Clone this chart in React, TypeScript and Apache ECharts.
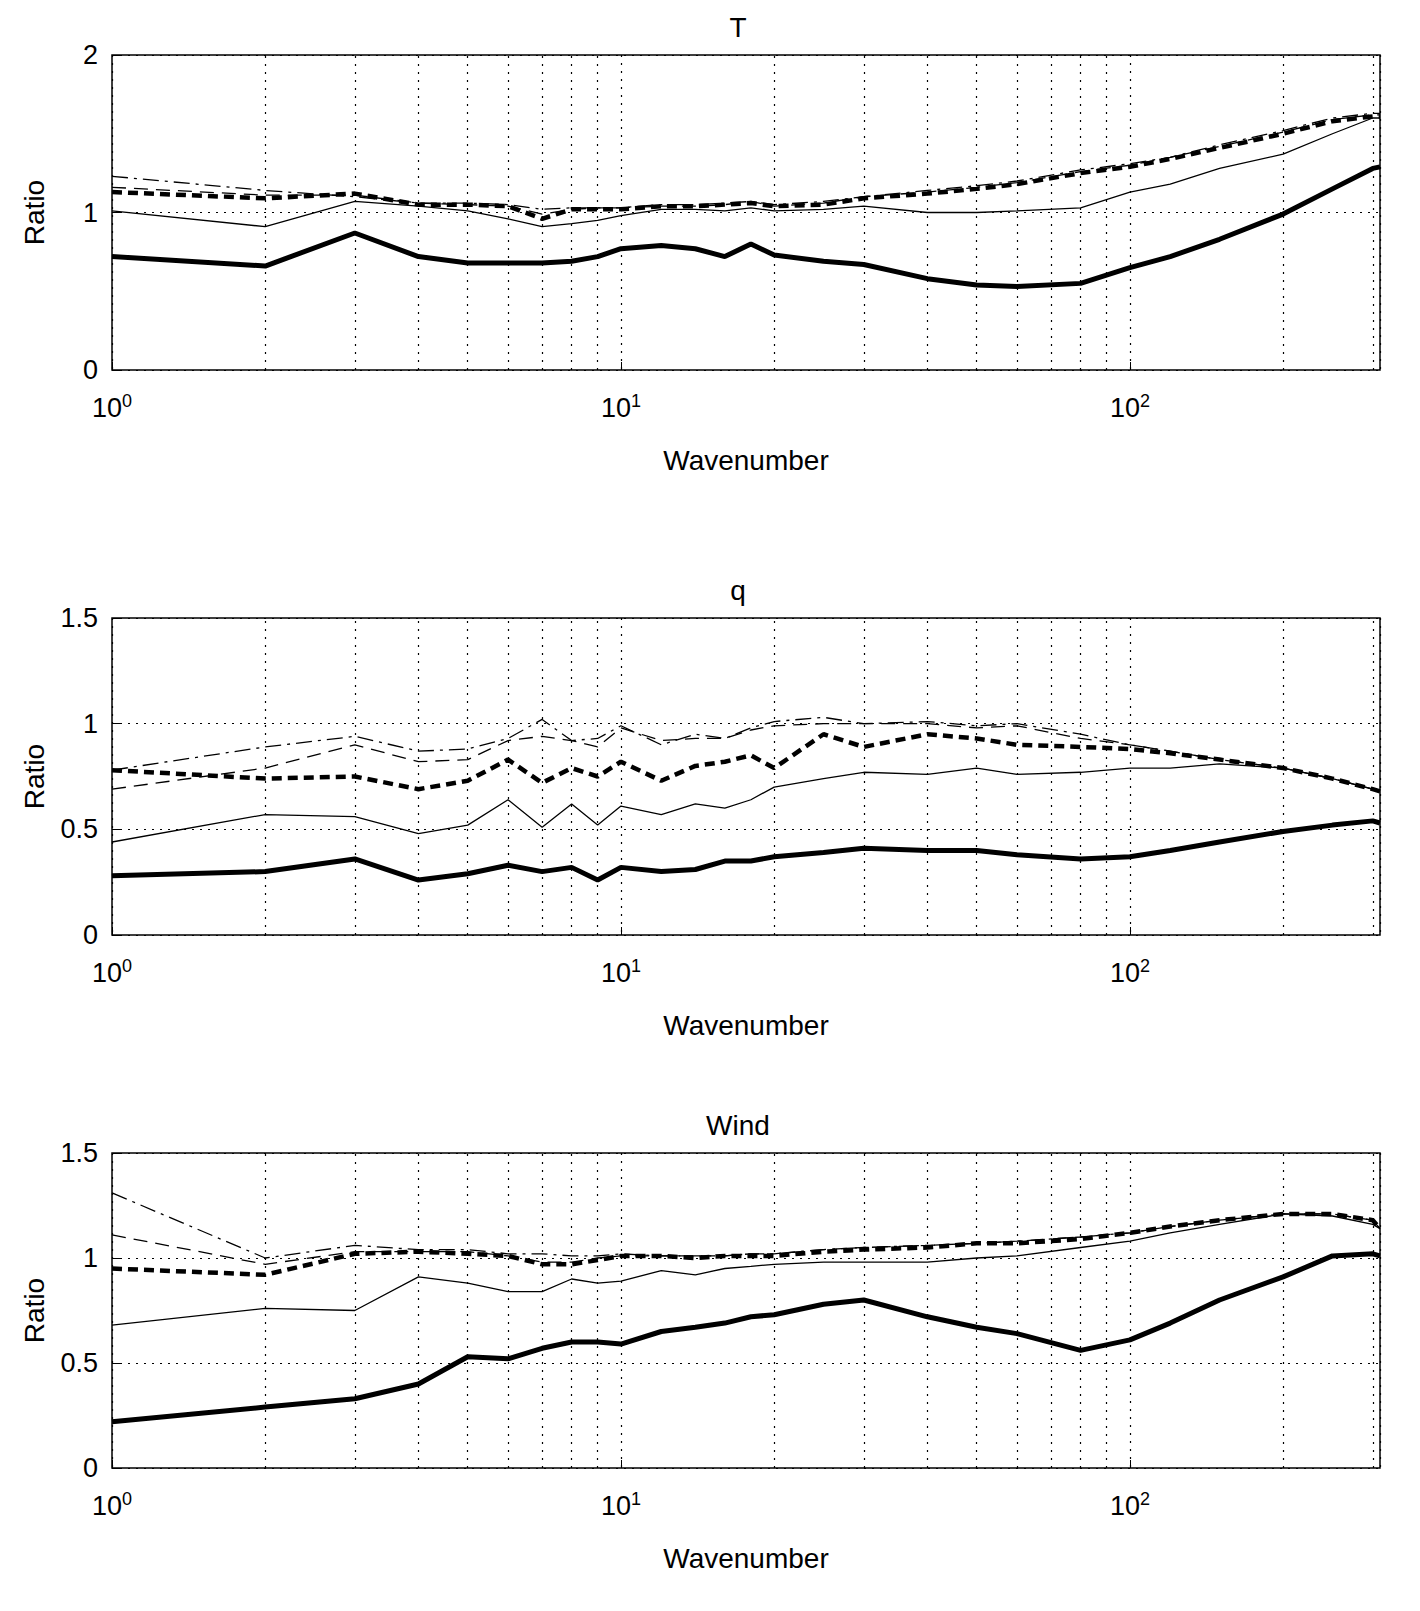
import { useEffect, useRef } from "react";
import * as echarts from "echarts";

const WN = [1, 2, 3, 4, 5, 6, 7, 8, 9, 10, 12, 14, 16, 18, 20, 25, 30, 40, 50, 60, 80, 100, 120, 150, 200, 250, 300, 310];
const MINOR = [2, 3, 4, 5, 6, 7, 8, 9, 20, 30, 40, 50, 60, 70, 80, 90, 200, 300];

// T panel
const T_thick = [0.72, 0.66, 0.87, 0.72, 0.68, 0.68, 0.68, 0.69, 0.72, 0.77, 0.79, 0.77, 0.72, 0.8, 0.73, 0.69, 0.67, 0.58, 0.54, 0.53, 0.55, 0.65, 0.72, 0.83, 0.99, 1.15, 1.28, 1.29];
const T_thin = [1.01, 0.91, 1.07, 1.04, 1.01, 0.96, 0.91, 0.93, 0.95, 0.98, 1.02, 1.02, 1.01, 1.03, 1.01, 1.02, 1.04, 1.0, 1.0, 1.01, 1.03, 1.13, 1.18, 1.28, 1.37, 1.5, 1.6, 1.6];
const T_dash = [1.13, 1.09, 1.12, 1.05, 1.05, 1.04, 0.96, 1.02, 1.02, 1.02, 1.04, 1.04, 1.05, 1.06, 1.04, 1.05, 1.09, 1.12, 1.15, 1.18, 1.25, 1.29, 1.34, 1.41, 1.5, 1.58, 1.61, 1.61];
const T_thinDash = [1.16, 1.11, 1.11, 1.06, 1.05, 1.04, 0.99, 1.02, 1.03, 1.03, 1.04, 1.04, 1.05, 1.07, 1.04, 1.06, 1.1, 1.13, 1.16, 1.19, 1.26, 1.3, 1.35, 1.42, 1.51, 1.59, 1.62, 1.62];
const T_dashDot = [1.23, 1.14, 1.1, 1.06, 1.06, 1.05, 1.02, 1.03, 1.03, 1.03, 1.05, 1.05, 1.06, 1.07, 1.05, 1.07, 1.1, 1.14, 1.17, 1.2, 1.27, 1.31, 1.35, 1.43, 1.52, 1.6, 1.63, 1.63];

// q panel
const Q_thick = [0.28, 0.3, 0.36, 0.26, 0.29, 0.33, 0.3, 0.32, 0.26, 0.32, 0.3, 0.31, 0.35, 0.35, 0.37, 0.39, 0.41, 0.4, 0.4, 0.38, 0.36, 0.37, 0.4, 0.44, 0.49, 0.52, 0.54, 0.53];
const Q_thin = [0.44, 0.57, 0.56, 0.48, 0.52, 0.64, 0.51, 0.62, 0.52, 0.61, 0.57, 0.62, 0.6, 0.64, 0.7, 0.74, 0.77, 0.76, 0.79, 0.76, 0.77, 0.79, 0.79, 0.81, 0.79, 0.74, 0.69, 0.68];
const Q_dash = [0.78, 0.74, 0.75, 0.69, 0.73, 0.83, 0.72, 0.79, 0.75, 0.82, 0.73, 0.8, 0.82, 0.85, 0.79, 0.95, 0.89, 0.95, 0.93, 0.9, 0.89, 0.88, 0.86, 0.83, 0.79, 0.74, 0.69, 0.68];
const Q_thinDash = [0.69, 0.79, 0.9, 0.82, 0.83, 0.92, 0.94, 0.92, 0.89, 0.98, 0.92, 0.93, 0.93, 0.97, 0.99, 1.0, 1.0, 1.0, 0.98, 0.99, 0.93, 0.9, 0.87, 0.83, 0.79, 0.74, 0.69, 0.68];
const Q_dashDot = [0.78, 0.89, 0.94, 0.87, 0.88, 0.93, 1.02, 0.92, 0.93, 0.99, 0.9, 0.95, 0.93, 0.98, 1.01, 1.03, 1.0, 1.01, 0.99, 1.0, 0.95, 0.9, 0.87, 0.83, 0.79, 0.74, 0.69, 0.68];

// Wind panel
const W_thick = [0.22, 0.29, 0.33, 0.4, 0.53, 0.52, 0.57, 0.6, 0.6, 0.59, 0.65, 0.67, 0.69, 0.72, 0.73, 0.78, 0.8, 0.72, 0.67, 0.64, 0.56, 0.61, 0.69, 0.8, 0.91, 1.01, 1.02, 1.01];
const W_thin = [0.68, 0.76, 0.75, 0.91, 0.88, 0.84, 0.84, 0.9, 0.88, 0.89, 0.94, 0.92, 0.95, 0.96, 0.97, 0.98, 0.98, 0.98, 1.0, 1.01, 1.05, 1.08, 1.12, 1.16, 1.21, 1.2, 1.16, 1.14];
const W_dash = [0.95, 0.92, 1.02, 1.03, 1.02, 1.01, 0.97, 0.97, 0.99, 1.01, 1.01, 1.0, 1.01, 1.01, 1.01, 1.03, 1.04, 1.05, 1.07, 1.07, 1.09, 1.12, 1.15, 1.18, 1.21, 1.21, 1.18, 1.14];
const W_thinDash = [1.11, 0.97, 1.03, 1.03, 1.03, 1.01, 0.98, 0.98, 1.0, 1.01, 1.01, 1.01, 1.01, 1.02, 1.02, 1.04, 1.05, 1.06, 1.07, 1.08, 1.1, 1.12, 1.15, 1.18, 1.21, 1.21, 1.18, 1.14];
const W_dashDot = [1.31, 1.0, 1.06, 1.04, 1.04, 1.02, 1.02, 1.01, 1.01, 1.02, 1.01, 1.01, 1.01, 1.02, 1.02, 1.04, 1.05, 1.06, 1.07, 1.08, 1.1, 1.12, 1.15, 1.18, 1.21, 1.21, 1.18, 1.14];

const PANELS = [
  { title: "T", top: 47, height: 315, max: 2, interval: 1, series: [T_thick, T_thin, T_dash, T_thinDash, T_dashDot] },
  { title: "q", top: 610, height: 317, max: 1.5, interval: 0.5, series: [Q_thick, Q_thin, Q_dash, Q_thinDash, Q_dashDot] },
  { title: "Wind", top: 1145, height: 315, max: 1.5, interval: 0.5, series: [W_thick, W_thin, W_dash, W_thinDash, W_dashDot] },
];

const STYLES = [
  { width: 5, type: "solid" },
  { width: 1.3, type: "solid" },
  { width: 4.5, type: [10, 6] },
  { width: 1.3, type: [14, 8] },
  { width: 1.3, type: [16, 6, 3, 6] },
];

const FONT = "Liberation Sans, Arial, sans-serif";

const App = () => {
  const chartRef = useRef(null);

  useEffect(() => {
    if (!chartRef.current) return;
    const chart = echarts.init(chartRef.current, null, { renderer: "svg" });
    const grids: any[] = [];
    const xAxes: any[] = [];
    const yAxes: any[] = [];
    const series: any[] = [];
    const texts: any[] = [];
    PANELS.forEach((p, i) => {
      grids.push({ left: 104, top: p.top, width: 1268, height: p.height, show: true, borderColor: "#000", borderWidth: 1.5, backgroundColor: "#fff" });
      xAxes.push({
        type: "log", logBase: 10, gridIndex: i, min: 1, max: 310,
        name: "Wavenumber", nameLocation: "middle", nameGap: 76,
        nameTextStyle: { fontFamily: FONT, fontSize: 28, color: "#000" },
        axisLine: { show: false },
        axisTick: { inside: true, length: 8, lineStyle: { color: "#000" } },
        splitLine: { show: true, lineStyle: { color: "#000", type: [2, 6], width: 1.2 } },
        axisLabel: {
          showMaxLabel: false,
          margin: 22,
          formatter: (v: number) => "{b|10}{s|" + Math.round(Math.log10(v)) + "}",
          rich: {
            b: { fontFamily: FONT, fontSize: 27, color: "#000" },
            s: { fontFamily: FONT, fontSize: 18, color: "#000", verticalAlign: "top", padding: [0, 0, 14, 0] },
          },
        },
      });
      yAxes.push({
        type: "value", gridIndex: i, min: 0, max: p.max, interval: p.interval,
        name: "Ratio", nameLocation: "middle", nameGap: 64,
        nameTextStyle: { fontFamily: FONT, fontSize: 28, color: "#000" },
        axisLine: { show: false },
        axisTick: { inside: true, length: 8, lineStyle: { color: "#000" } },
        splitLine: { show: true, lineStyle: { color: "#000", type: [2, 6], width: 1.2 } },
        axisLabel: { fontFamily: FONT, fontSize: 27, color: "#000", margin: 14 },
      });
      p.series.forEach((vals, k) => {
        series.push({
          type: "line", xAxisIndex: i, yAxisIndex: i, symbol: "none",
          data: WN.map((w, j) => [w, vals[j]]),
          lineStyle: { color: "#000", width: STYLES[k].width, type: STYLES[k].type },
          markLine: k === 0 ? {
            silent: true, symbol: "none", label: { show: false },
            lineStyle: { color: "#000", type: [2, 6], width: 1.2 },
            data: MINOR.map((m) => ({ xAxis: m })),
          } : undefined,
          z: 3,
        });
      });
      texts.push({
        type: "text", x: 104 + 626, y: p.top - 42,
        style: { text: p.title, fontFamily: FONT, fontSize: 28, fill: "#000", textAlign: "center" },
      });
    });
    chart.setOption({
      animation: false,
      backgroundColor: "#fff",
      grid: grids,
      xAxis: xAxes,
      yAxis: yAxes,
      series,
      graphic: texts,
    });
    return () => {
      chart.dispose();
    };
  }, []);

  return <div ref={chartRef} style={{ width: "1404px", height: "1595px" }}></div>;
};

export default App;
